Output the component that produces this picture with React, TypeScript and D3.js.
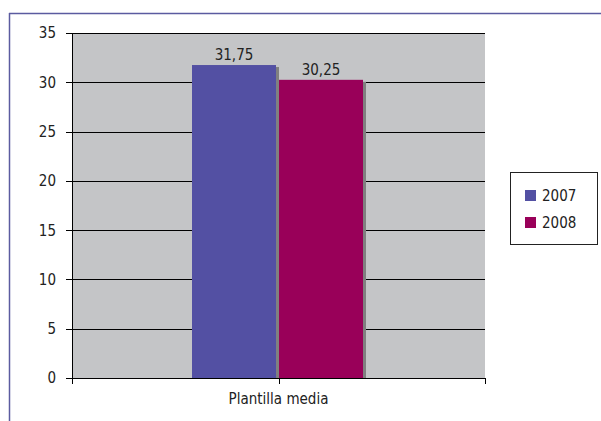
import React from "react";
import * as d3 from "d3";

const categories = ["Plantilla media"];
const seriesNames = ["2007", "2008"];
const values2007 = [31.75];
const values2008 = [30.25];
const yTicks = [0, 5, 10, 15, 20, 25, 30, 35];
const colors = ["#5350a3", "#990059"];

const W = 601, H = 421;
const plot = { left: 72, right: 485, top: 33, bottom: 378 };
const FONT = "'DejaVu Sans Condensed', 'DejaVu Sans', sans-serif";
const FS = 15;

export default function App() {
  const y = d3.scaleLinear().domain([0, 35]).range([plot.bottom, plot.top]);
  const x0 = d3.scaleBand().domain(categories).range([plot.left, plot.right]).paddingInner(0).paddingOuter(0);
  const x1 = d3.scaleBand().domain(seriesNames).range([120, 291]).paddingInner(3 / 87).paddingOuter(0);
  const series = [values2007, values2008];
  const fmt = (v: number) => v.toFixed(2).replace(".", ",");
  return (
    <svg width={W} height={H} style={{ position: "absolute", left: 0, top: 0, fontFamily: FONT }}>
      <rect x={0} y={0} width={W} height={H} fill="#fff" />
      <line x1={9} x2={601} y1={13.5} y2={13.5} stroke="#5b5ba0" strokeWidth={1.5} />
      <line x1={9.5} x2={9.5} y1={13} y2={421} stroke="#5b5ba0" strokeWidth={1.5} />
      <rect x={plot.left} y={plot.top} width={plot.right - plot.left} height={plot.bottom - plot.top} fill="#c4c5c7" />
      {yTicks.map((t) => (
        <g key={t}>
          {t > 0 && <line x1={plot.left} x2={plot.right} y1={Math.round(y(t)) + 0.5} y2={Math.round(y(t)) + 0.5} stroke="#000" strokeWidth={1} />}
          <line x1={66} x2={plot.left} y1={Math.round(y(t)) + 0.5} y2={Math.round(y(t)) + 0.5} stroke="#000" />
          <text x={56} y={y(t)} dy="0.36em" textAnchor="end" fontSize={FS} fill="#222">{t}</text>
        </g>
      ))}
      {categories.map((c, ci) => (
        <g key={c}>
          {seriesNames.map((s, si) => {
            const bx = (x0(c) as number) + (x1(s) as number);
            const bw = x1.bandwidth();
            const v = series[si][ci];
            return (
              <g key={s}>
                <rect x={bx + 3} y={y(v) + 2} width={bw} height={plot.bottom - y(v) - 2} fill="#808080" />
                <rect x={bx} y={y(v)} width={bw} height={plot.bottom - y(v)} fill={colors[si]} />
                <text x={bx + bw / 2} y={y(v) - 5} textAnchor="middle" fontSize={FS} fill="#222">{fmt(v)}</text>
              </g>
            );
          })}
          <text x={(x0(c) as number) + x0.bandwidth() / 2} y={404} textAnchor="middle" fontSize={FS} fill="#222">{c}</text>
        </g>
      ))}
      <line x1={plot.left + 0.5} x2={plot.left + 0.5} y1={plot.top} y2={plot.bottom} stroke="#000" />
      <line x1={plot.left} x2={plot.right} y1={plot.bottom + 0.5} y2={plot.bottom + 0.5} stroke="#000" />
      {[plot.left, (plot.left + plot.right) / 2, plot.right].map((tx, i) => (
        <line key={i} x1={Math.round(tx) + 0.5} x2={Math.round(tx) + 0.5} y1={plot.bottom} y2={plot.bottom + 6} stroke="#000" />
      ))}
      <rect x={510.5} y={172.5} width={87} height={72} fill="#fff" stroke="#222" />
      {seriesNames.map((s, i) => (
        <g key={s}>
          <rect x={525} y={190 + i * 27} width={11} height={11} fill={colors[i]} />
          <text x={542} y={196 + i * 27} dy="0.36em" fontSize={FS} fill="#222">{s}</text>
        </g>
      ))}
    </svg>
  );
}
